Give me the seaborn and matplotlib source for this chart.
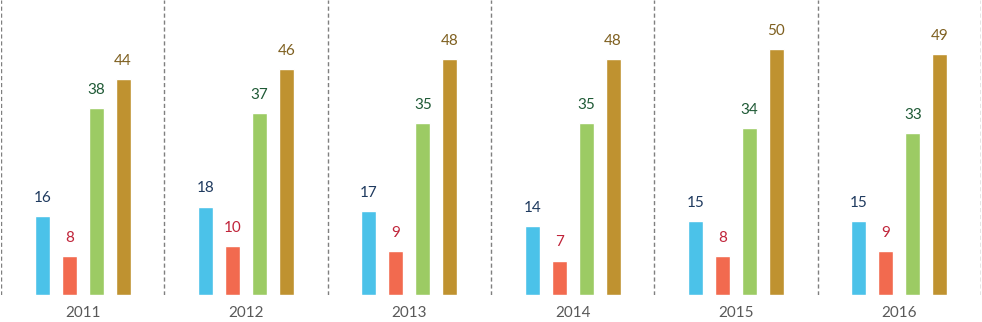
import pandas as pd
import matplotlib
matplotlib.use('Agg')
import matplotlib.pyplot as plt
import seaborn as sns

years = ['2011', '2012', '2013', '2014', '2015', '2016']
series = ['A', 'B', 'C', 'D']
vals_a = [16, 18, 17, 14, 15, 15]
vals_b = [8, 10, 9, 7, 8, 9]
vals_c = [38, 37, 35, 35, 34, 33]
vals_d = [44, 46, 48, 48, 50, 49]

bar_colors = ['#4BC2E9', '#F26A4F', '#9CCB64', '#BF9230']
text_colors = ['#1F3A5F', '#C0243A', '#1F5A36', '#7F6020']

sns.set_style('white')
plt.rcParams['font.family'] = ['Lato', 'DejaVu Sans']

df = pd.DataFrame({
    'year': years * 4,
    'series': [s for s in series for _ in years],
    'value': vals_a + vals_b + vals_c + vals_d,
})

fig = plt.figure(figsize=(9.82, 3.22), dpi=100)
ax = fig.add_axes([1 / 982, 27 / 322, 980 / 982, 295 / 322])

sns.barplot(data=df, x='year', y='value', hue='series', order=years,
            hue_order=series, palette=bar_colors, width=0.66, gap=0.45,
            saturation=1, legend=False, ax=ax)

# value labels
for cont, col in zip(ax.containers, text_colors):
    ax.bar_label(cont, labels=[str(int(v)) for v in cont.datavalues],
                 padding=8, color=col, fontsize=11)

# dashed separators between years
for i in range(len(years) + 1):
    ax.axvline(i - 0.5, color='#7F7F7F', linestyle=(0, (3, 2)), linewidth=1)

ax.set_xlim(-0.5, len(years) - 0.5)
ax.set_ylim(0, 60)
ax.set_yticks([])
ax.set_xlabel('')
ax.set_ylabel('')
ax.tick_params(axis='x', length=0, pad=8, labelsize=11, labelcolor='#595959')
for s in ax.spines.values():
    s.set_visible(False)

fig.savefig('out.png', dpi=100)
